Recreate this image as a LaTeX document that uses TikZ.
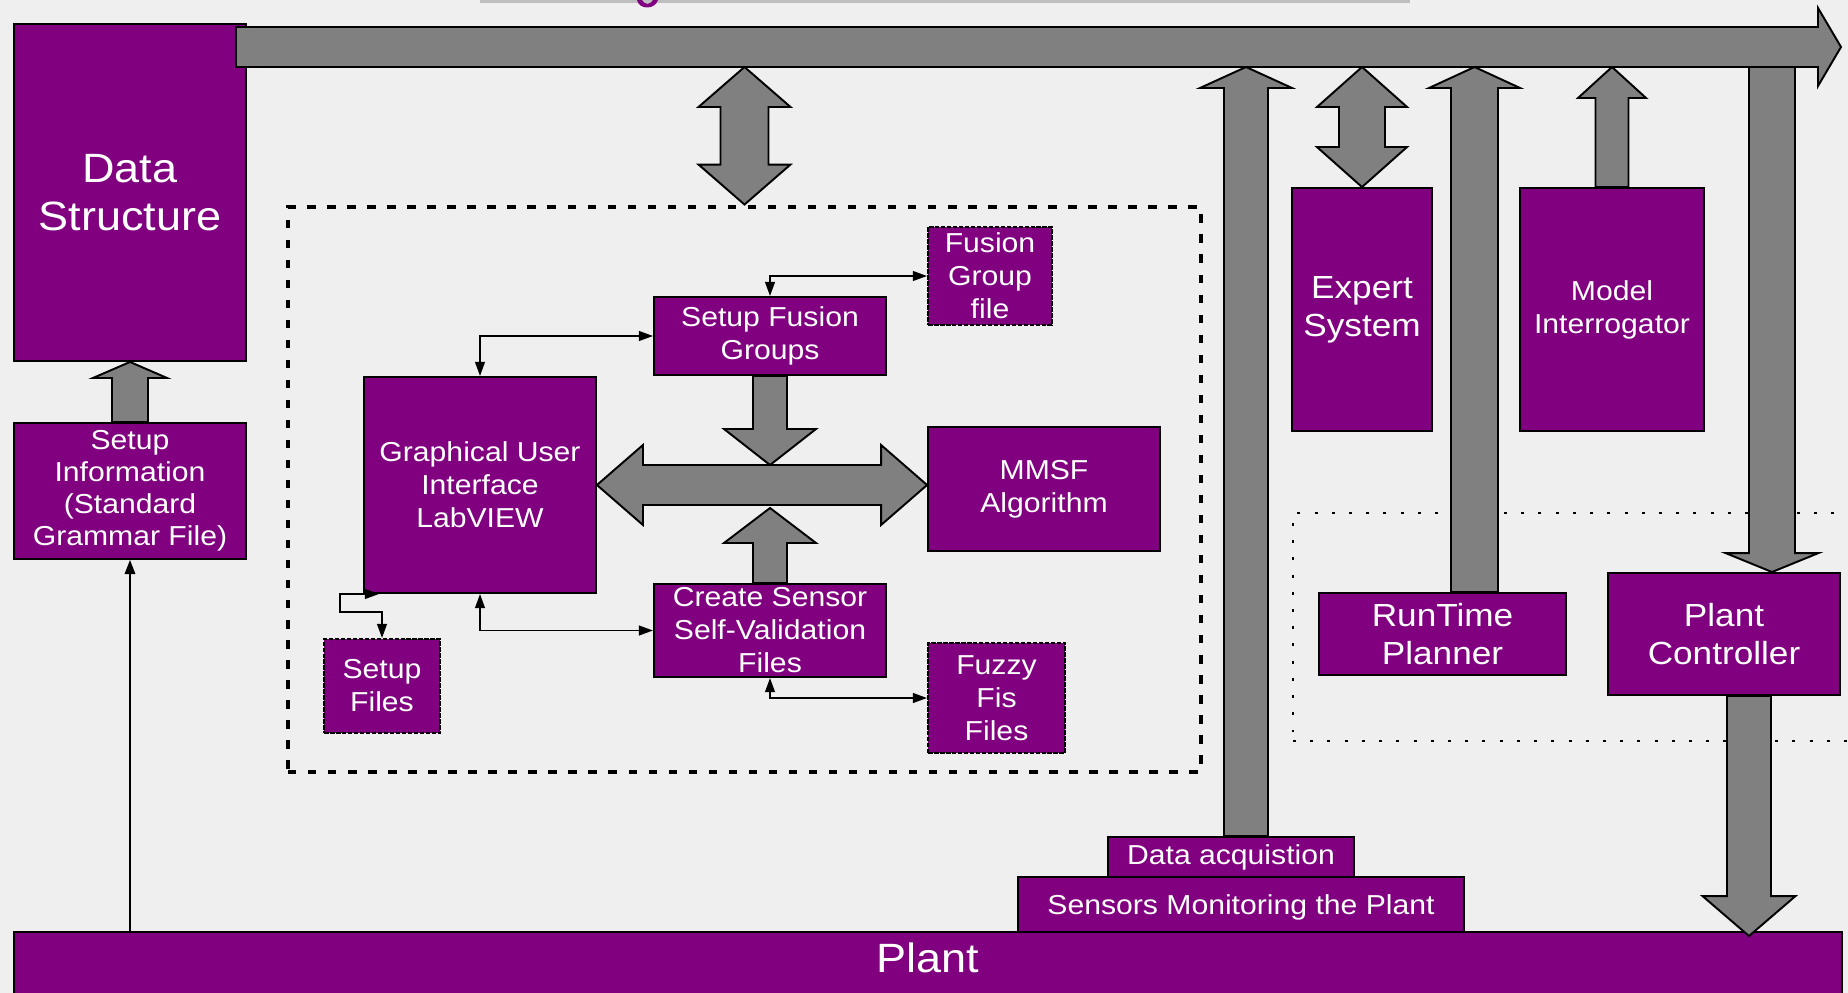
\documentclass[tikz,border=0pt]{standalone}
\usepackage{fontspec}
\setmainfont{Liberation Sans}[FakeStretch=1.1]
\usetikzlibrary{fit,calc,arrows.meta}

\definecolor{plum}{RGB}{128,0,128}
\definecolor{bargray}{RGB}{128,128,128}
\definecolor{paper}{RGB}{239,239,239}
\definecolor{rulegray}{RGB}{190,190,190}

% one drawing unit
\def\pxu{0.02cm}

\tikzset{
  box/.style={fill=plum, draw=black, line width=1.1pt, inner sep=0pt, text=white,
    align=center, font=\fontsize{15.6}{18.8}\selectfont},
  filebox/.style={box, dash pattern=on 2.6pt off 0.8pt},
  bigtext/.style={font=\fontsize{18.2}{21.6}\selectfont},
  hugetext/.style={font=\fontsize{23.3}{27.3}\selectfont},
  blockarrow/.style={fill=bargray, draw=black, line width=1.1pt, line join=miter},
  link/.style={draw=black, line width=1.1pt,
    {Triangle[length=8pt,width=5.5pt]}-{Triangle[length=8pt,width=5.5pt]}},
  feed/.style={draw=black, line width=0.9pt, -{Triangle[length=8pt,width=6pt]}},
  group/.style={draw=black, line width=2.8pt, dash pattern=on 4.8pt off 6.6pt, inner sep=0pt},
  zone/.style={draw=black, line width=1.3pt, dash pattern=on 1.7pt off 8.1pt, inner sep=0pt},
}

% block with its corners given: [options] name, x1, y1, x2, y2, text
\newcommand\blk[7][]{%
  \node[box, #1, minimum width={(#5-#3)*\pxu}, minimum height={(#6-#4)*\pxu}]
    (#2) at ({(#3+#5)/2},{(#4+#6)/2}) {#7};}

% vertical block arrow: tail point, tip point, head length, shaft half-width, head half-width
\newcommand\vblock[5]{%
  \filldraw[blockarrow] let \p1=(#1), \p2=(#2), \n1={ifthenelse(\y2>\y1,1,-1)} in
    ({\x2-#4*\pxu},\y1) -- ({\x2-#4*\pxu},{\y2-\n1*#3*\pxu}) -- ({\x2-#5*\pxu},{\y2-\n1*#3*\pxu})
    -- (\x2,\y2) -- ({\x2+#5*\pxu},{\y2-\n1*#3*\pxu}) -- ({\x2+#4*\pxu},{\y2-\n1*#3*\pxu})
    -- ({\x2+#4*\pxu},\y1) -- cycle;}

% vertical double block arrow between two points (x taken from the first)
\newcommand\vdblock[5]{%
  \filldraw[blockarrow] let \p1=(#1), \p2=(#2), \n1={ifthenelse(\y2>\y1,1,-1)} in
    (\x1,\y1) -- ({\x1+#5*\pxu},{\y1+\n1*#3*\pxu}) -- ({\x1+#4*\pxu},{\y1+\n1*#3*\pxu})
    -- ({\x1+#4*\pxu},{\y2-\n1*#3*\pxu}) -- ({\x1+#5*\pxu},{\y2-\n1*#3*\pxu}) -- (\x1,\y2)
    -- ({\x1-#5*\pxu},{\y2-\n1*#3*\pxu}) -- ({\x1-#4*\pxu},{\y2-\n1*#3*\pxu})
    -- ({\x1-#4*\pxu},{\y1+\n1*#3*\pxu}) -- ({\x1-#5*\pxu},{\y1+\n1*#3*\pxu}) -- cycle;}

% horizontal double block arrow between two points (y taken from the first)
\newcommand\hdblock[5]{%
  \filldraw[blockarrow] let \p1=(#1), \p2=(#2), \n1={ifthenelse(\x2>\x1,1,-1)} in
    (\x1,\y1) -- ({\x1+\n1*#3*\pxu},{\y1+#5*\pxu}) -- ({\x1+\n1*#3*\pxu},{\y1+#4*\pxu})
    -- ({\x2-\n1*#3*\pxu},{\y1+#4*\pxu}) -- ({\x2-\n1*#3*\pxu},{\y1+#5*\pxu}) -- (\x2,\y1)
    -- ({\x2-\n1*#3*\pxu},{\y1-#5*\pxu}) -- ({\x2-\n1*#3*\pxu},{\y1-#4*\pxu})
    -- ({\x1+\n1*#3*\pxu},{\y1-#4*\pxu}) -- ({\x1+\n1*#3*\pxu},{\y1-#5*\pxu}) -- cycle;}

\begin{document}
\begin{tikzpicture}[x=\pxu, y=-\pxu]
\useasboundingbox (0,0) rectangle (1848,993);
\clip (0,0) rectangle (1848,993);
\fill[paper] (0,0) rectangle (1848,993);

% rule and letter remnant along the top edge
\fill[rulegray] (480,0) rectangle (1410,3.5);
\fill[plum] (637,0) .. controls (639,10) and (655,10) .. (658,0) -- (653,0)
  .. controls (651,5) and (644,5) .. (642,0) -- cycle;

% dotted run-time zone and dashed LabVIEW group
\node[zone, fit={(1293,513) (1880,741)}] (zone) {};
\node[group, fit={(288,207) (1201,772)}] (core) {};

% blocks
\blk[hugetext]{ds}{14}{24}{246}{361}{Data\\Structure}
\blk[font=\fontsize{15.6}{18.2}\selectfont]{sinfo}{14}{423}{246}{559}
  {Setup\\Information\\(Standard\\Grammar File)}
\blk[filebox]{fgf}{928}{227}{1052}{325}{Fusion\\Group\\file}
\blk{sfg}{654}{297}{886}{375}{Setup Fusion\\Groups}
\blk{gui}{364}{377}{596}{593}{Graphical User\\Interface\\LabVIEW}
\blk{mmsf}{928}{427}{1160}{551}{MMSF\\Algorithm}
\blk{css}{654}{584}{886}{677}{Create Sensor\\Self-Validation\\Files}
\blk[filebox]{sf}{324}{639}{440}{733}{Setup\\Files}
\blk[filebox]{fuzzy}{928}{643}{1065}{753}{Fuzzy\\Fis\\Files}
\blk[bigtext]{expert}{1292}{188}{1432}{431}{Expert\\System}
\blk{model}{1520}{188}{1704}{431}{Model\\Interrogator}
\blk[bigtext]{rtp}{1319}{593}{1566}{675}{RunTime\\Planner}
\blk[bigtext]{pc}{1608}{573}{1840}{695}{Plant\\Controller}
\blk{daq}{1108}{837}{1354}{877}{Data acquistion}
\blk{smp}{1018}{877}{1464}{937}{Sensors Monitoring the Plant}
% the plant runs off the lower edge; the extra depth keeps its label in view
\blk[hugetext, text depth=12pt]{plant}{14}{932}{1842}{1004}{Plant}

% reference points for the block arrows
\coordinate (busbot) at (0,67);
\coordinate (daqtail) at ($(daq.north)+(15,0)$);
\coordinate (rtptail) at ($(rtp.north)+(32,0)$);
\coordinate (pctip) at ($(pc.north)+(48,0)$);
\coordinate (pctail) at ($(pc.south)+(25,0)$);
\coordinate (planttip) at ($(pctail |- plant.north)+(0,5)$);
\coordinate (hubtop) at ($(sfg.south |- gui.east)+(0,-20)$);
\coordinate (hubbot) at ($(css.north |- gui.east)+(0,23)$);

% block arrows
\vblock{sinfo.north}{ds.south}{16}{18}{37}
\vdblock{core.north |- busbot}{core.north}{40}{24}{46}
\vdblock{expert.north |- busbot}{expert.north}{40}{23}{45}
\vblock{daqtail}{daqtail |- busbot}{21}{22}{46}
\vblock{rtptail}{rtptail |- busbot}{21}{23.5}{45.5}
\vblock{model.north}{model.north |- busbot}{31}{16.5}{34}
\vblock{pctip |- busbot}{pctip}{19}{23}{46.5}
\vblock{pctail}{planttip}{40}{22}{46.5}
\vblock{sfg.south}{hubtop}{36}{17}{46}
\vblock{css.north}{hubbot}{35}{17}{46}
\hdblock{gui.east}{mmsf.west |- gui.east}{46}{20}{40}

% data bus along the top
\filldraw[blockarrow] (236,27) -- (1818,27) -- (1818,8) -- (1841,47) -- (1818,86)
  -- (1818,67) -- (236,67) -- cycle;

% file links inside the LabVIEW group
\draw[link] (sfg.north) |- (fgf.west);
\draw[link] (gui.north) |- (sfg.west);
\draw[link] (gui.south) |- (css.west);
\draw[link] (css.south) |- (fuzzy.west);
\draw[link] ($(gui.south west)+(16,0)$) -| ($(sf.north)+(-42,-26)$) -| (sf.north);

% plant feed to the setup information
\draw[feed] (sinfo.south |- plant.north) -- (sinfo.south);
\end{tikzpicture}
\end{document}
